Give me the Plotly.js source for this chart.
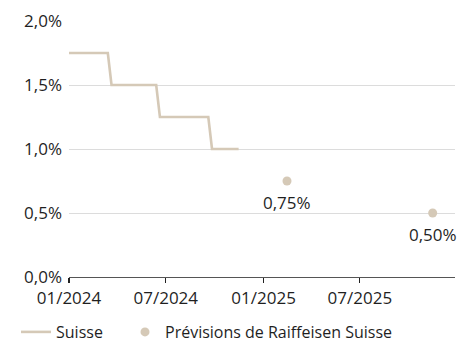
<!DOCTYPE html>
<html>
<head>
<meta charset="utf-8">
<script src="https://cdn.plot.ly/plotly-3.0.1.min.js"></script>
<style>
  html, body { margin: 0; padding: 0; background: #fff; }
  #chart { width: 473px; height: 349px; }
</style>
</head>
<body>
<div id="chart"></div>
<script>
// SNB policy rate (weekly observations around each decision)
const rateDates = ['2024-01-01', '2024-03-14', '2024-03-21', '2024-06-13', '2024-06-20',
                   '2024-09-19', '2024-09-26', '2024-11-15'];
const rateValues = [1.75, 1.75, 1.5, 1.5, 1.25, 1.25, 1.0, 1.0];

// Forecast points (mid-quarter)
const forecastDates = ['2025-02-14', '2025-11-15'];
const forecastValues = [0.75, 0.50];
const forecastLabels = ['0,75%', '0,50%'];

// Axis ticks
const xTickVals = ['2024-01-01', '2024-07-01', '2025-01-01', '2025-07-01'];
const xTickText = ['01/2024', '07/2024', '01/2025', '07/2025'];
const yTickVals = [0, 0.5, 1.0, 1.5, 2.0];
const yTickText = ['0,0%', '0,5%', '1,0%', '1,5%', '2,0%'];

const beige = '#d5c9b7';
const ink = '#1f1f1f';
const font = 'Open Sans, Noto Sans, sans-serif';

const traces = [
  {
    x: rateDates, y: rateValues, type: 'scatter', mode: 'lines',
    name: 'Suisse', legend: 'legend',
    line: { color: beige, width: 2.6 },
    hoverinfo: 'skip'
  },
  {
    x: forecastDates, y: forecastValues, type: 'scatter', mode: 'markers',
    name: 'Prévisions de Raiffeisen Suisse', legend: 'legend2',
    marker: { color: beige, size: 9 },
    hoverinfo: 'skip'
  }
];

// Value labels under each forecast point
const annotations = forecastDates.map((d, i) => ({
  x: d, y: forecastValues[i], xref: 'x', yref: 'y',
  text: forecastLabels[i], showarrow: false,
  yshift: -21, font: { family: font, size: 17, color: ink }
}));

const legendBase = {
  orientation: 'h',
  xref: 'container', yref: 'container',
  y: 0, xanchor: 'left', yanchor: 'bottom',
  font: { family: font, size: 16, color: ink },
  itemwidth: 30, bgcolor: 'rgba(0,0,0,0)'
};

const layout = {
  width: 473, height: 349,
  margin: { l: 69, r: 18, t: 21, b: 72 },
  paper_bgcolor: '#fff', plot_bgcolor: '#fff',
  font: { family: font, size: 16, color: ink },
  showlegend: true,
  legend: Object.assign({}, legendBase, { x: 16 / 473 }),
  legend2: Object.assign({}, legendBase, { x: 125 / 473 }),
  annotations: annotations,
  xaxis: {
    type: 'date',
    range: ['2024-01-01', '2025-12-27'],
    tickvals: xTickVals, ticktext: xTickText,
    showgrid: false, zeroline: false,
    showline: true, linecolor: '#555', linewidth: 1.3,
    ticks: 'outside', ticklen: 5, tickwidth: 1.3, tickcolor: '#222',
    tickfont: { family: font, size: 17, color: ink },
    fixedrange: true
  },
  yaxis: {
    range: [0, 2.0],
    tickvals: yTickVals, ticktext: yTickText,
    showgrid: true, gridcolor: '#dcdcdc', gridwidth: 1,
    zeroline: false, showline: false,
    ticks: '', ticklabelstandoff: 6,
    tickfont: { family: font, size: 17, color: ink },
    fixedrange: true
  }
};

Plotly.newPlot('chart', traces, layout, { displayModeBar: false, staticPlot: true });
</script>
</body>
</html>
